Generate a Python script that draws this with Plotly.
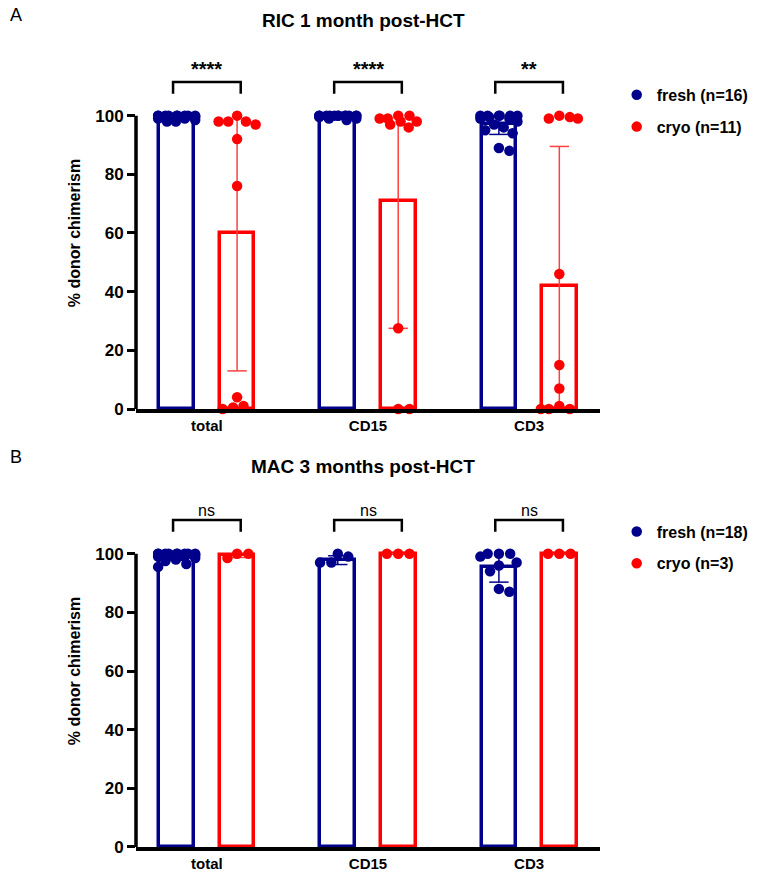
import numpy as np
import plotly.graph_objects as go

FONT = "Liberation Sans, Arial, sans-serif"
NAVY = "#00008B"
RED = "#FF0000"

categories = ["total", "CD15", "CD3"]
y_ticks = [0, 20, 40, 60, 80, 100]

# Panel A: RIC 1 month post-HCT
ric_fresh_total = [100, 100, 100, 100, 100, 100, 100, 100, 100, 99.5, 99.5, 99, 99, 98.5, 98, 98]
ric_fresh_cd15 = [100, 100, 100, 100, 100, 100, 100, 100, 100, 100, 100, 100, 99.5, 99, 99, 98.5]
ric_fresh_cd3 = [100, 100, 100, 100, 100, 100, 99.5, 99, 99, 98, 97, 96, 95, 94, 89, 88]
ric_cryo_total = [100, 98, 98, 98, 97, 92, 76, 4, 1, 0.5, 0]
ric_cryo_cd15 = [100, 100, 99, 99, 98, 98, 97, 96, 27.5, 0, 0]
ric_cryo_cd3 = [100, 99.5, 99, 99, 46, 15, 7, 1, 0, 0, 0]
ric_fresh_mean = [99.6, 99.8, 97.2]
ric_fresh_sd = [0.7, 0.4, 3.6]
ric_cryo_mean = [60, 71, 42]
ric_cryo_sd = [47, 43.5, 47.5]
ric_sig = ["****", "****", "**"]
ric_names = ["fresh (n=16)", "cryo (n=11)"]

# Panel B: MAC 3 months post-HCT
mac_fresh_total = [100, 100, 100, 100, 100, 100, 100, 100, 100, 99.5, 99.5, 99, 99, 98.5, 98, 97.5, 96.5, 95.5]
mac_fresh_cd15 = [100, 99, 97, 97]
mac_fresh_cd3 = [100, 100, 100, 99, 97, 96, 94, 88, 87]
mac_cryo_total = [100, 100, 98.5]
mac_cryo_cd15 = [100, 100, 100]
mac_cryo_cd3 = [100, 100, 100]
mac_fresh_mean = [99, 97.8, 95.5]
mac_fresh_sd = [1.3, 1.5, 5.2]
mac_cryo_mean = [99.5, 100, 100]
mac_cryo_sd = [0.8, 0, 0]
mac_sig = ["ns", "ns", "ns"]
mac_names = ["fresh (n=18)", "cryo (n=3)"]

OFF = 0.1875
BW = 0.215
PX_X = 161.0
PX_Y = 2.93
DIAM = 10.5


def swarm(values, maxhalf=0.115):
    cands = sorted(np.linspace(-maxhalf, maxhalf, 47), key=abs)
    placed = []
    xs = [0.0] * len(values)
    order = sorted(range(len(values)), key=lambda i: -values[i])
    for i in order:
        yp = values[i] * PX_Y
        best = None
        for c in cands:
            cx = c * PX_X
            pen = sum(max(0.0, DIAM - np.hypot(cx - a, yp - b)) for a, b in placed)
            key = (round(pen, 2), abs(c))
            if best is None or key < best[0]:
                best = (key, c)
        xs[i] = best[1]
        placed.append((best[1] * PX_X, yp))
    return xs


fig = go.Figure()


def add_panel(xa, ya, fresh, cryo, fmean, fsd, cmean, csd, names, sig, legend, sig_bold):
    xr = np.arange(len(categories))
    for off, means, col in [(-OFF, fmean, NAVY), (OFF, cmean, RED)]:
        fig.add_trace(go.Bar(x=xr + off, y=means, width=BW, marker=dict(color="white", line=dict(color=col, width=3.5)),
                             xaxis=xa, yaxis=ya, showlegend=False, hoverinfo="skip"))
    for off, means, sds, col, lw in [(-OFF, fmean, fsd, NAVY, 1.5), (OFF, cmean, csd, "#FF4040", 1.5)]:
        ex, ey = [], []
        for i, (m, s) in enumerate(zip(means, sds)):
            xc = xr[i] + off
            lo, hi = m - s, m + s
            lo_c, hi_c = max(lo, 0), min(hi, 100)
            ex += [xc, xc, None]
            ey += [lo_c, hi_c, None]
            if lo >= 0:
                ex += [xc - 0.06, xc + 0.06, None]
                ey += [lo, lo, None]
            if hi <= 100:
                ex += [xc - 0.06, xc + 0.06, None]
                ey += [hi, hi, None]
        fig.add_trace(go.Scatter(x=ex, y=ey, mode="lines", line=dict(color=col, width=lw),
                                 xaxis=xa, yaxis=ya, showlegend=False, hoverinfo="skip", cliponaxis=False))
    for k, (off, groups, col) in enumerate([(-OFF, fresh, NAVY), (OFF, cryo, RED)]):
        px, py = [], []
        for i, vals in enumerate(groups):
            jit = swarm(vals)
            px += [xr[i] + off + j for j in jit]
            py += list(vals)
        fig.add_trace(go.Scatter(x=px, y=py, mode="markers", name=names[k],
                                 marker=dict(color=col, size=DIAM, line=dict(width=0)),
                                 xaxis=xa, yaxis=ya, legend=legend, legendgroup=f"{legend}{k}",
                                 cliponaxis=False))
    yref = "y" if ya == "y" else "y2"
    xref = "x" if xa == "x" else "x2"
    for i, s in enumerate(sig):
        x0, x1 = xr[i] - 0.21, xr[i] + 0.21
        fig.add_shape(type="path", path=f"M {x0} 107.5 L {x0} 111.5 L {x1} 111.5 L {x1} 107.5",
                      xref=xref, yref=yref, line=dict(color="black", width=2.5))
        fig.add_annotation(x=xr[i], y=111.3, xref=xref, yref=yref, text=s, showarrow=False,
                           yanchor="bottom",
                           font=dict(family=FONT, size=20 if sig_bold else 16, color="black",
                                     weight="bold" if sig_bold else "normal"))
    fig.add_shape(type="line", xref=f"{xref} domain", yref=yref, x0=0, x1=0, y0=0, y1=100,
                  line=dict(color="black", width=3.5))


add_panel("x", "y", [ric_fresh_total, ric_fresh_cd15, ric_fresh_cd3], [ric_cryo_total, ric_cryo_cd15, ric_cryo_cd3],
          ric_fresh_mean, ric_fresh_sd, ric_cryo_mean, ric_cryo_sd, ric_names, ric_sig, "legend", True)
add_panel("x2", "y2", [mac_fresh_total, mac_fresh_cd15, mac_fresh_cd3], [mac_cryo_total, mac_cryo_cd15, mac_cryo_cd3],
          mac_fresh_mean, mac_fresh_sd, mac_cryo_mean, mac_cryo_sd, mac_names, mac_sig, "legend2", False)

tickfont = dict(family=FONT, size=17, color="black", weight="bold")
xcommon = dict(range=[-0.44, 2.44], tickvals=[0, 1, 2], ticktext=categories, showline=True, linecolor="black",
               linewidth=3.5, ticks="", showgrid=False, zeroline=False, automargin=False,
               tickfont=dict(family=FONT, size=15, color="black", weight="bold"), fixedrange=True)
ycommon = dict(range=[0, 120], tickvals=y_ticks, ticks="outside", ticklen=8, tickwidth=3, tickcolor="black",
               showline=False, showgrid=False, zeroline=False, tickfont=tickfont, automargin=False,
               title=dict(text="% donor chimerism", font=dict(family=FONT, size=16, color="black", weight="bold"), standoff=10))

legfont = dict(family=FONT, size=16, color="black", weight="bold")
fig.update_layout(
    width=771, height=881,
    margin=dict(l=136, r=171, t=20, b=34),
    paper_bgcolor="white", plot_bgcolor="white",
    barmode="overlay", bargap=0,
    xaxis=dict(domain=[0, 1], anchor="y", **xcommon),
    yaxis=dict(domain=[0.5296, 0.9553], anchor="x", **ycommon),
    xaxis2=dict(domain=[0, 1], anchor="y2", **xcommon),
    yaxis2=dict(domain=[0, 0.4256], anchor="x2", **ycommon),
    legend=dict(x=1.036, y=0.93, xanchor="left", yanchor="top", font=legfont, tracegroupgap=8, bgcolor="rgba(0,0,0,0)"),
    legend2=dict(x=1.036, y=0.402, xanchor="left", yanchor="top", font=legfont, tracegroupgap=8, bgcolor="rgba(0,0,0,0)"),
    showlegend=True,
)

fig.add_annotation(x=0.49, y=1.0, xref="paper", yref="paper", text="RIC 1 month post-HCT", showarrow=False,
                   font=dict(family=FONT, size=19, color="black", weight="bold"), yanchor="middle")
fig.add_annotation(x=0.49, y=0.4595, xref="paper", yref="paper", text="MAC 3 months post-HCT", showarrow=False,
                   font=dict(family=FONT, size=19, color="black", weight="bold"), yanchor="middle")
fig.add_annotation(x=-0.275, y=1.006, xref="paper", yref="paper", text="A", showarrow=False, xanchor="left",
                   font=dict(family=FONT, size=18, color="black"), yanchor="middle")
fig.add_annotation(x=-0.275, y=0.472, xref="paper", yref="paper", text="B", showarrow=False, xanchor="left",
                   font=dict(family=FONT, size=18, color="black"), yanchor="middle")

fig.write_html("out.html", config={"displayModeBar": False}, post_script="document.body.style.margin='0px';")
